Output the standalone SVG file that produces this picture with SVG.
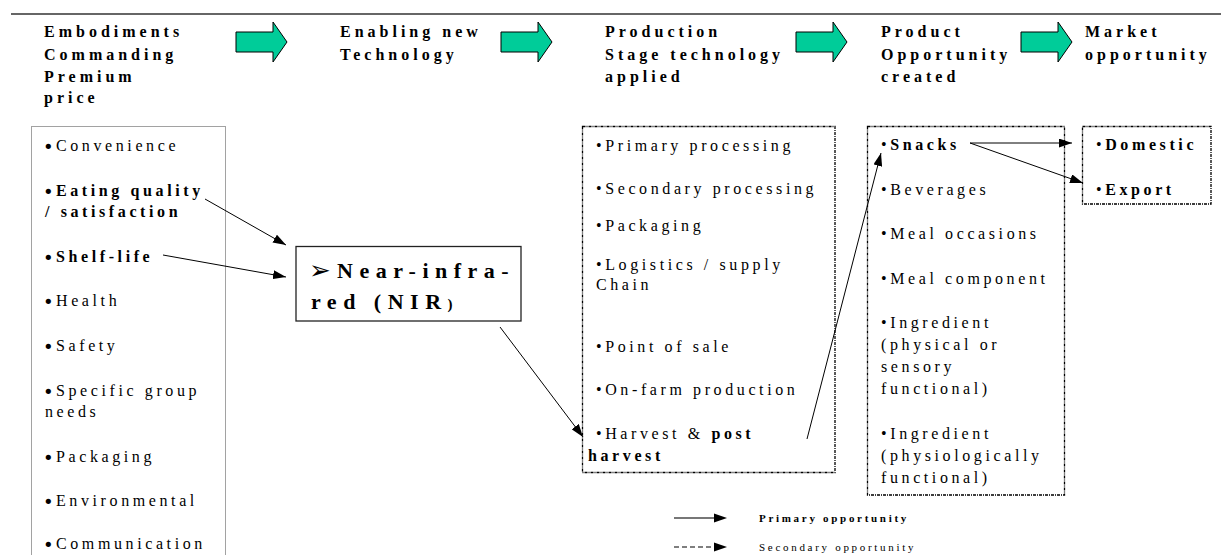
<svg xmlns="http://www.w3.org/2000/svg" width="1222" height="555" viewBox="0 0 1222 555">
  <style>
    .h { font-family: "Liberation Serif", "Times New Roman", serif; font-weight: bold; font-size: 16px; letter-spacing: 4px; fill: #000; }
    .t { font-family: "Liberation Serif", "Times New Roman", serif; font-size: 16px; letter-spacing: 3.6px; fill: #000; }
    .b { font-weight: bold; }
    .big { font-family: "DejaVu Sans", sans-serif; font-size: 18px; font-weight: normal; letter-spacing: 0; }
    .box { fill: none; stroke: #000; stroke-width: 1.3; stroke-dasharray: 3 1 1 1; }
    .dotbox { fill: none; stroke: #444; stroke-width: 1; stroke-dasharray: 1 1; }
    .stage { fill: #00CC99; stroke: #000; stroke-width: 1; }
    .conn { fill: none; stroke: #000; stroke-width: 1; marker-end: url(#ah); }
    .leg { font-family: "Liberation Serif", "Times New Roman", serif; font-size: 11px; letter-spacing: 2.7px; fill: #000; }
  </style>
  <defs>
    <marker id="ah" markerUnits="userSpaceOnUse" markerWidth="13" markerHeight="9" refX="13" refY="4.5" orient="auto">
      <path d="M0,0 L13,4.5 L0,9 Z" fill="#000"/>
    </marker>
  </defs>

  <rect width="1222" height="555" fill="#fff"/>

  <!-- top rule -->
  <line x1="11" y1="14" x2="1221" y2="14" stroke="#333" stroke-width="1.5"/>

  <!-- stage headings -->
  <g id="head-embodiments">
    <text class="h" x="44" y="37">Embodiments</text>
    <text class="h" x="44" y="60">Commanding</text>
    <text class="h" x="44" y="82">Premium</text>
    <text class="h" x="44" y="103">price</text>
  </g>
  <g id="head-enabling">
    <text class="h" x="340" y="37">Enabling new</text>
    <text class="h" x="340" y="60">Technology</text>
  </g>
  <g id="head-production">
    <text class="h" x="605" y="37">Production</text>
    <text class="h" x="605" y="60">Stage technology</text>
    <text class="h" x="605" y="82">applied</text>
  </g>
  <g id="head-product">
    <text class="h" x="881" y="37">Product</text>
    <text class="h" x="881" y="60">Opportunity</text>
    <text class="h" x="881" y="82">created</text>
  </g>
  <g id="head-market">
    <text class="h" x="1085" y="37">Market</text>
    <text class="h" x="1085" y="60">opportunity</text>
  </g>

  <!-- green stage arrows -->
  <g id="stage-arrows">
    <path class="stage" d="M236,32 H273 V22 L287,42 L273,62 V52 H236 Z"/>
    <path class="stage" d="M501,32 H538 V22 L552,42 L538,62 V52 H501 Z"/>
    <path class="stage" d="M796,32 H833 V22 L847,42 L833,62 V52 H796 Z"/>
    <path class="stage" d="M1021,32 H1058 V22 L1072,42 L1058,62 V52 H1021 Z"/>
  </g>

  <!-- embodiments list (large round bullets) -->
  <g id="embodiments">
    <rect class="dotbox" x="31.5" y="126.5" width="194" height="440"/>
    <text class="t" x="43" y="151"><tspan class="big" dy="1.5">•</tspan><tspan x="56" dy="-1.5">Convenience</tspan></text>
    <text class="t b" x="43" y="196"><tspan class="big" dy="1.5">•</tspan><tspan x="56" dy="-1.5">Eating quality</tspan></text>
    <text class="t b" x="45" y="217">/ satisfaction</text>
    <text class="t b" x="43" y="262"><tspan class="big" dy="1.5">•</tspan><tspan x="56" dy="-1.5">Shelf-life</tspan></text>
    <text class="t" x="43" y="306"><tspan class="big" dy="1.5">•</tspan><tspan x="56" dy="-1.5">Health</tspan></text>
    <text class="t" x="43" y="351"><tspan class="big" dy="1.5">•</tspan><tspan x="56" dy="-1.5">Safety</tspan></text>
    <text class="t" x="43" y="396"><tspan class="big" dy="1.5">•</tspan><tspan x="56" dy="-1.5">Specific group</tspan></text>
    <text class="t" x="45" y="417">needs</text>
    <text class="t" x="43" y="462"><tspan class="big" dy="1.5">•</tspan><tspan x="56" dy="-1.5">Packaging</tspan></text>
    <text class="t" x="43" y="506"><tspan class="big" dy="1.5">•</tspan><tspan x="56" dy="-1.5">Environmental</tspan></text>
    <text class="t" x="43" y="549"><tspan class="big" dy="1.5">•</tspan><tspan x="56" dy="-1.5">Communication</tspan></text>
  </g>

  <!-- enabling technology -->
  <g id="nir">
    <rect x="296" y="246.5" width="225" height="74.5" fill="#fff" stroke="#222" stroke-width="1.3"/>
    <text x="309" y="279" font-family="'Liberation Serif', serif" font-weight="bold" font-size="22" letter-spacing="6.5"><tspan font-family="'DejaVu Sans', sans-serif" font-weight="normal" font-size="26" letter-spacing="0">➢</tspan><tspan x="337" y="278">Near-infra-</tspan></text>
    <text x="311" y="309" font-family="'Liberation Serif', serif" font-weight="bold" font-size="22" letter-spacing="6.5">red (NIR<tspan font-size="15">)</tspan></text>
  </g>

  <!-- production stage list -->
  <g id="production">
    <rect class="box" x="582.5" y="126.5" width="252.5" height="346"/>
    <text class="t" x="596" y="151">•Primary processing</text>
    <text class="t" x="596" y="194">•Secondary processing</text>
    <text class="t" x="596" y="231">•Packaging</text>
    <text class="t" x="596" y="270">•Logistics / supply</text>
    <text class="t" x="596" y="290">Chain</text>
    <text class="t" x="596" y="352">•Point of sale</text>
    <text class="t" x="596" y="395">•On-farm production</text>
    <text class="t" x="596" y="439">•Harvest &amp; <tspan class="b">post</tspan></text>
    <text class="t b" x="588" y="461">harvest</text>
  </g>

  <!-- product opportunity list -->
  <g id="product">
    <rect class="box" x="867.5" y="126.5" width="197" height="368.5"/>
    <text class="t" x="881" y="150">•<tspan class="b">Snacks</tspan></text>
    <text class="t" x="881" y="195">•Beverages</text>
    <text class="t" x="881" y="239">•Meal occasions</text>
    <text class="t" x="881" y="284">•Meal component</text>
    <text class="t" x="881" y="328">•Ingredient</text>
    <text class="t" x="881" y="350">(physical or</text>
    <text class="t" x="881" y="372">sensory</text>
    <text class="t" x="881" y="394">functional)</text>
    <text class="t" x="881" y="439">•Ingredient</text>
    <text class="t" x="881" y="461">(physiologically</text>
    <text class="t" x="881" y="483">functional)</text>
  </g>

  <!-- market opportunity list -->
  <g id="market">
    <rect class="box" x="1082.5" y="126.5" width="128.5" height="77.5"/>
    <text class="t" x="1096" y="150">•<tspan class="b">Domestic</tspan></text>
    <text class="t" x="1096" y="195">•<tspan class="b">Export</tspan></text>
  </g>

  <!-- connectors -->
  <g id="connectors">
    <line class="conn" x1="205" y1="199" x2="286" y2="245"/>
    <line class="conn" x1="163" y1="255" x2="286" y2="277"/>
    <line class="conn" x1="500" y1="327" x2="583" y2="437"/>
    <line class="conn" x1="807" y1="439" x2="881" y2="153"/>
    <line class="conn" x1="970" y1="143" x2="1072" y2="143"/>
    <line class="conn" x1="970" y1="143" x2="1083" y2="183"/>
  </g>

  <!-- legend -->
  <g id="legend">
    <line x1="674" y1="518" x2="716" y2="518" stroke="#777" stroke-width="2"/>
    <path d="M714,513.5 L727,518 L714,522.5 Z" fill="#000"/>
    <text class="leg b" x="759" y="522">Primary opportunity</text>
    <line x1="674" y1="547" x2="716" y2="547" stroke="#000" stroke-width="1.2" stroke-dasharray="5 3"/>
    <path d="M714,542.5 L727,547 L714,551.5 Z" fill="#000"/>
    <text class="leg" x="759" y="551">Secondary opportunity</text>
  </g>
</svg>
